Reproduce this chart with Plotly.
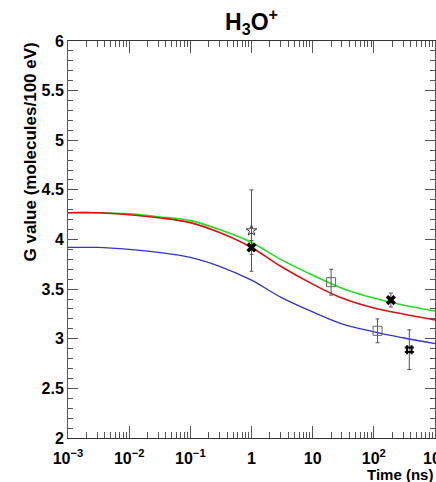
import plotly.graph_objects as go

# ---- data ----
times = [1e-3, 3e-3, 1e-2, 3e-2, 0.1, 0.3, 1, 3, 10, 30, 100, 300, 1000]
green_vals = [4.27, 4.27, 4.26, 4.23, 4.19, 4.10, 3.97, 3.80, 3.64, 3.51, 3.41, 3.34, 3.28]
red_vals = [4.27, 4.27, 4.25, 4.22, 4.17, 4.07, 3.92, 3.73, 3.55, 3.41, 3.31, 3.25, 3.19]
blue_vals = [3.92, 3.92, 3.90, 3.87, 3.82, 3.73, 3.59, 3.42, 3.27, 3.15, 3.07, 3.01, 2.95]

star_t = [1.0]
star_g = [4.09]
star_err = [0.41]

xmark_t = [1.0, 190]
xmark_g = [3.92, 3.39]
xmark_err = [0.07, 0.07]

square_t = [20, 115]
square_g = [3.57, 3.08]
square_err = [0.13, 0.12]

hash_t = [380]
hash_g = [2.89]
hash_err = [0.20]

x_tickvals = [1e-3, 1e-2, 1e-1, 1, 10, 100, 1000]
x_ticktext = ["10<sup>\u22123</sup>", "10<sup>\u22122</sup>", "10<sup>\u22121</sup>", "1", "10",
              "10<sup>2</sup>", "10<sup>3</sup>"]
y_tickvals = [2, 2.5, 3, 3.5, 4, 4.5, 5, 5.5, 6]
y_ticktext = ["2", "2.5", "3", "3.5", "4", "4.5", "5", "5.5", "6"]

x_minor = [m * 10 ** e for e in range(-3, 3) for m in range(2, 10)]

FONT = "Liberation Sans, Arial, sans-serif"

fig = go.Figure()
fig.add_trace(go.Scatter(x=times, y=green_vals, mode="lines", line=dict(color="#22dd22", width=1.6, shape="spline"),
                         showlegend=False))
fig.add_trace(go.Scatter(x=times, y=red_vals, mode="lines", line=dict(color="#dd1111", width=1.6, shape="spline"),
                         showlegend=False))
fig.add_trace(go.Scatter(x=times, y=blue_vals, mode="lines", line=dict(color="#3333cc", width=1.3, shape="spline"),
                         showlegend=False))

errstyle = dict(type="data", thickness=1, width=2, color="#555555")

fig.add_trace(go.Scatter(x=star_t, y=star_g, mode="markers",
                         error_y=dict(array=star_err, **errstyle),
                         marker=dict(symbol="star-open", size=8, color="#333333", line=dict(width=1)),
                         showlegend=False))
fig.add_trace(go.Scatter(x=square_t, y=square_g, mode="markers",
                         error_y=dict(array=square_err, **errstyle),
                         marker=dict(symbol="square-open", size=9, color="#666666", line=dict(width=1)),
                         showlegend=False))
fig.add_trace(go.Scatter(x=xmark_t, y=xmark_g, mode="markers",
                         error_y=dict(array=xmark_err, **errstyle),
                         marker=dict(symbol="x", size=9, color="black", line=dict(width=0)),
                         showlegend=False))
fig.add_trace(go.Scatter(x=hash_t, y=hash_g, mode="markers",
                         error_y=dict(array=hash_err, **errstyle),
                         marker=dict(symbol="hash-open", size=9, color="black", line=dict(width=2, color="black")),
                         showlegend=False))

fig.update_layout(
    width=436, height=482,
    margin=dict(l=68, r=1, t=41, b=44, autoexpand=False),
    paper_bgcolor="white", plot_bgcolor="white",
    font=dict(family=FONT, color="black"),
    title=dict(text="H<sub>3</sub>O<sup>+</sup>", x=(68 + 435) / 2 / 436, xanchor="center",
               y=1 - 22 / 482, yanchor="middle",
               font=dict(family=FONT, size=23, weight="bold", color="black")),
    xaxis=dict(type="log", range=[-3, 3], tickmode="array", tickvals=x_tickvals, ticktext=x_ticktext,
               ticks="inside", ticklen=12, tickwidth=1, tickcolor="#555555",
               showline=True, linecolor="#333333", linewidth=1, mirror="ticks",
               showgrid=False, zeroline=False, ticklabeloverflow="allow", ticklabelstandoff=6,
               automargin=False,
               tickfont=dict(family=FONT, size=16, weight="bold", color="black"),
               minor=dict(tickmode="array", tickvals=x_minor, ticks="inside", ticklen=6,
                          tickcolor="#555555", showgrid=False)),
    yaxis=dict(range=[2, 6], tickmode="array", tickvals=y_tickvals, ticktext=y_ticktext,
               ticks="inside", ticklen=10, tickwidth=1, tickcolor="#555555",
               showline=True, linecolor="#555555", linewidth=1, mirror="ticks",
               showgrid=False, zeroline=False, ticklabeloverflow="allow", automargin=False,
               tickfont=dict(family=FONT, size=16, weight="bold", color="black"),
               minor=dict(dtick=0.1, ticks="inside", ticklen=5, tickcolor="#555555", showgrid=False)),
    annotations=[
        dict(text="G value (molecules/100 eV)", textangle=-90, xref="paper", yref="paper",
             x=(30 - 68) / 367, y=1.0, xanchor="center", yanchor="top", showarrow=False,
             font=dict(family=FONT, size=17, weight="bold", color="black")),
        dict(text="Time (ns)", xref="paper", yref="paper", x=1.0, y=-(474 - 438) / 397,
             xanchor="right", yanchor="middle", showarrow=False,
             font=dict(family=FONT, size=15, weight="bold", color="black")),
    ],
)

fig.write_html("out.html", config={"displayModeBar": False},
               post_script="document.body.style.margin='0px';document.body.style.overflow='hidden';")
